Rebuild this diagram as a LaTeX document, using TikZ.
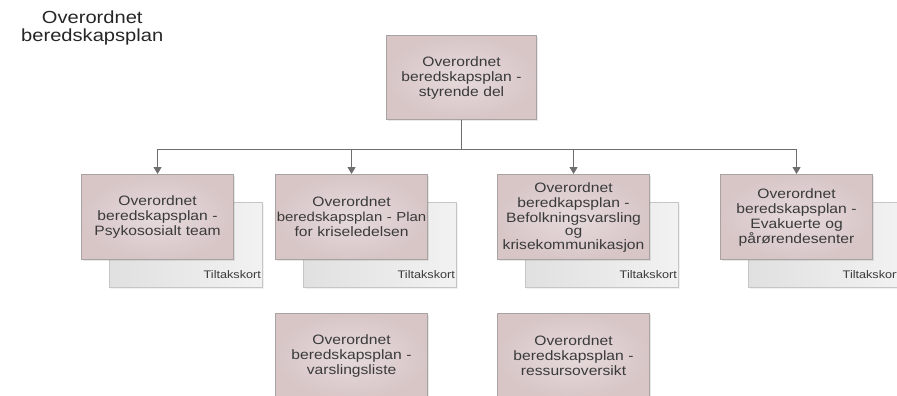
\documentclass[tikz,border=0pt]{standalone}
\usepackage{fontspec}
\newfontfamily\df[FakeStretch=1.15]{Liberation Sans}
\usetikzlibrary{arrows.meta,shadows}
\definecolor{pinkfill}{HTML}{DDCCCD}
\definecolor{pinkin}{HTML}{E6DADB}
\definecolor{pinkout}{HTML}{D8C6C7}
\definecolor{pinkedge}{HTML}{A9A2A2}
\definecolor{greyfill}{HTML}{ECECEC}
\definecolor{greyedge}{HTML}{C6C6C6}
\definecolor{conncol}{HTML}{6E6E6E}
\definecolor{txtcol}{HTML}{3A3A3A}
\tikzset{
  planbox/.style={draw=pinkedge, line width=1.1pt, fill=pinkfill, inner color=pinkin, outer color=pinkout,
    anchor=north west,
    minimum width=152pt, minimum height=85pt, inner sep=0pt, text width=150pt, align=center,
    text=txtcol, font=\df\fontsize{13.6}{15}\selectfont,
    drop shadow={opacity=0.18, shadow xshift=1.2pt, shadow yshift=-1.2pt}},
  cardbox/.style={draw=greyedge, line width=1.1pt, left color=greyfill!95!black, right color=greyfill!70!white,
    anchor=north west,
    minimum width=153pt, minimum height=85pt, inner sep=0pt,
    drop shadow={opacity=0.12, shadow xshift=1.2pt, shadow yshift=-1.2pt}},
  cardlabel/.style={anchor=base east, inner sep=0pt, text=txtcol, font=\df\fontsize{11}{12}\selectfont},
  conn/.style={draw=conncol, line width=1pt},
  arr/.style={conn, -{Triangle[width=8pt,length=7pt]}},
  titletext/.style={anchor=north west, inner sep=0pt, align=center, text=black!85,
    font=\df\fontsize{17.5}{18}\selectfont}
}
\begin{document}
\begin{tikzpicture}[x=1pt,y=-1pt]
\useasboundingbox (0,0) rectangle (897,396);
\clip (0,0) rectangle (897,396);
\node[titletext] (title) at (21,11) {Overordnet\\beredskapsplan};

% tiltakskort cards (behind)
\node[cardbox] (g1) at (109,202) {};
\node[cardbox] (g2) at (303,202) {};
\node[cardbox] (g3) at (525,202) {};
\node[cardbox] (g4) at (748,202) {};
\node[cardlabel] (t1) at ([xshift=-2pt,yshift=10pt]g1.south east) {Tiltakskort};
\node[cardlabel] (t2) at ([xshift=-2pt,yshift=10pt]g2.south east) {Tiltakskort};
\node[cardlabel] (t3) at ([xshift=-2pt,yshift=10pt]g3.south east) {Tiltakskort};
\node[cardlabel] (t4) at ([xshift=-2pt,yshift=10pt]g4.south east) {Tiltakskort};

% plan boxes
\node[planbox, minimum width=150pt, minimum height=84pt] (top) at (386,35) {Overordnet\\beredskapsplan -\\styrende del};
\node[planbox] (b1) at (81,174) {Overordnet\\beredskapsplan -\\Psykososialt team};
\node[planbox] (b2) at (275,174) {Overordnet\\{\fontsize{13}{15}\selectfont beredskapsplan - Plan}\\for kriseledelsen};
\node[planbox] (b3) at (497,174) {Overordnet\\beredkapsplan -\\Befolkningsvarsling\\[-2pt]og\\[-1pt]krisekommunikasjon};
\node[planbox] (b4) at (720,174) {Overordnet\\beredskapsplan -\\Evakuerte og\\pårørendesenter};
\node[planbox] (c1) at (275,313) {Overordnet\\beredskapsplan -\\varslingsliste\\[6pt]};
\node[planbox] (c2) at (497,313) {Overordnet\\beredskapsplan -\\ressursoversikt\\[6pt]};

% connectors
\draw[conn] (top.south) -- ++(0,29) coordinate (bus);
\draw[arr] (bus) -| (b1.north);
\draw[arr] (bus) -| (b2.north);
\draw[arr] (bus) -| (b3.north);
\draw[arr] (bus) -| (b4.north);
\end{tikzpicture}
\end{document}
